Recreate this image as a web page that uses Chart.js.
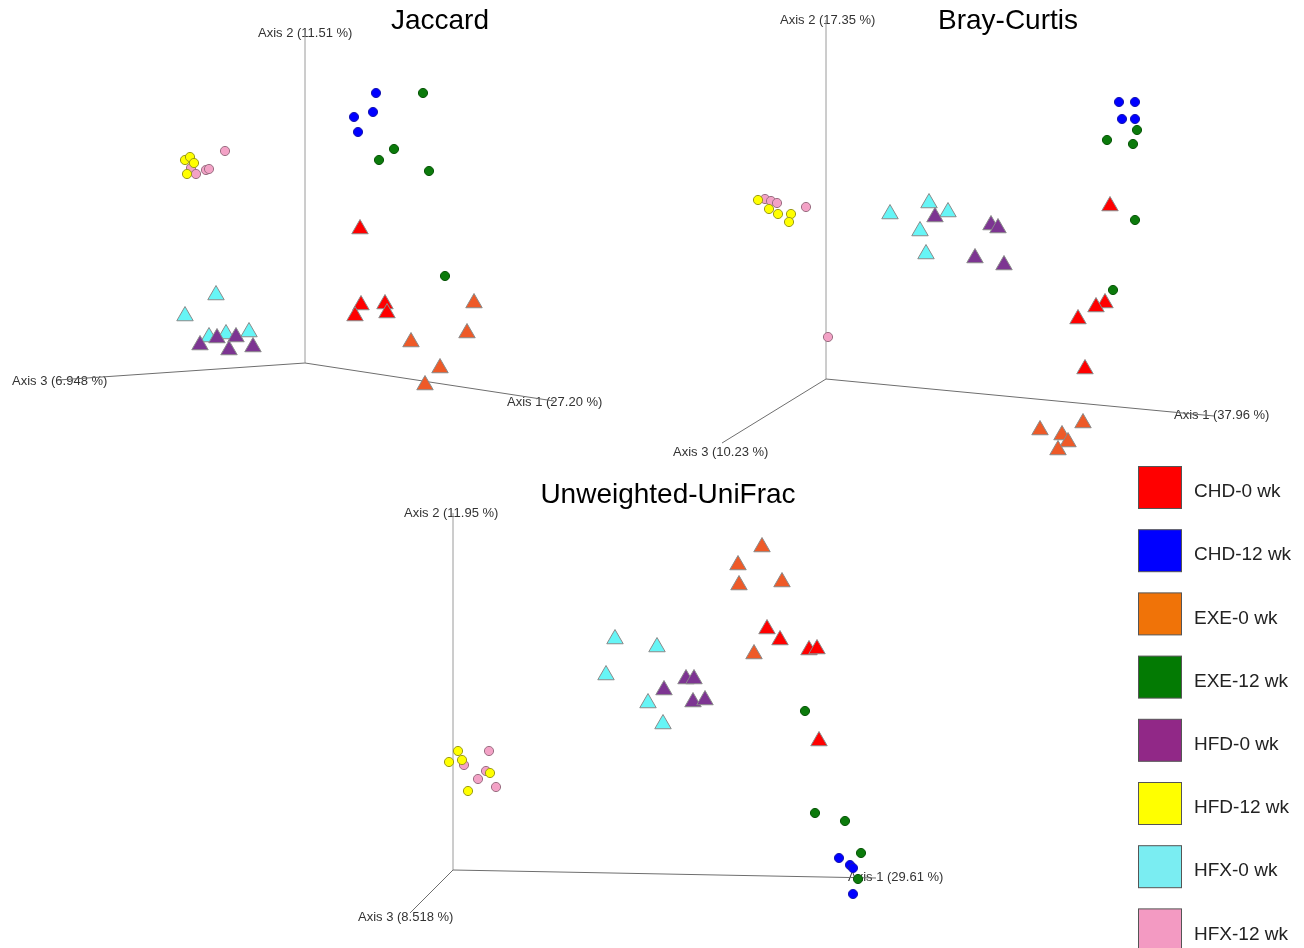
<!DOCTYPE html>
<html>
<head>
<meta charset="utf-8">
<title>PCoA</title>
<script src="https://cdn.jsdelivr.net/npm/chart.js@4.4.1/dist/chart.umd.min.js"></script>
<style>
  html, body { margin: 0; padding: 0; background: #fff; }
  #wrap { position: relative; width: 1304px; height: 948px; }
  #pcoa { width: 1304px; height: 948px; }
</style>
</head>
<body>
<div id="wrap"><canvas id="pcoa" width="1304" height="948"></canvas></div>
<script>
// Groups, in legend order
const groupNames = ['CHD-0 wk', 'CHD-12 wk', 'EXE-0 wk', 'EXE-12 wk', 'HFD-0 wk', 'HFD-12 wk', 'HFX-0 wk', 'HFX-12 wk'];

// Projected PCoA scores per group (screen projection of axes 1-3)
const jaccardPoints = [
  [[360, 229], [361, 305], [355, 316], [385, 304], [387, 313]],
  [[376, 93], [373, 112], [354, 117], [358, 132]],
  [[474, 303], [467, 333], [411, 342], [440, 368], [425, 385]],
  [[423, 93], [394, 149], [379, 160], [429, 171], [445, 276]],
  [[200, 345], [217, 338], [236, 337], [229, 350], [253, 347]],
  [[185, 160], [190, 157], [194, 163], [187, 174]],
  [[216, 295], [185, 316], [209, 337], [226, 334], [249, 332]],
  [[225, 151], [191, 168], [196, 174], [206, 170], [209, 169]]
];
const brayPoints = [
  [[1110, 206], [1105, 303], [1096, 307], [1078, 319], [1085, 369]],
  [[1119, 102], [1135, 102], [1122, 119], [1135, 119]],
  [[1040, 430], [1083, 423], [1062, 435], [1068, 442], [1058, 450]],
  [[1137, 130], [1107, 140], [1133, 144], [1135, 220], [1113, 290]],
  [[935, 217], [991, 225], [998, 228], [975, 258], [1004, 265]],
  [[758, 200], [769, 209], [778, 214], [791, 214], [789, 222]],
  [[890, 214], [929, 203], [948, 212], [920, 231], [926, 254]],
  [[765, 199], [771, 201], [777, 203], [806, 207], [828, 337]]
];
const unifracPoints = [
  [[767, 629], [780, 640], [809, 650], [817, 649], [819, 741]],
  [[839, 858], [850, 865], [853, 868], [853, 894]],
  [[762, 547], [738, 565], [739, 585], [782, 582], [754, 654]],
  [[805, 711], [815, 813], [845, 821], [861, 853], [858, 879]],
  [[664, 690], [686, 679], [694, 679], [693, 702], [705, 700]],
  [[458, 751], [449, 762], [462, 760], [490, 773], [468, 791]],
  [[615, 639], [657, 647], [606, 675], [648, 703], [663, 724]],
  [[489, 751], [464, 765], [486, 771], [478, 779], [496, 787]]
];

// Axis frame: origin, then ends of axis 1, axis 2, axis 3
const jaccardAxes = [[305, 363], [554, 401], [305, 33], [58, 380]];
const brayAxes = [[826, 379], [1214, 416], [826, 20], [722, 443]];
const unifracAxes = [[453, 870], [876, 878], [453, 513], [410, 913]];

const jaccardAxisLabels = ['Axis 1 (27.20 %)', 'Axis 2 (11.51 %)', 'Axis 3 (6.948 %)'];
const brayAxisLabels = ['Axis 1 (37.96 %)', 'Axis 2 (17.35 %)', 'Axis 3 (10.23 %)'];
const unifracAxisLabels = ['Axis 1 (29.61 %)', 'Axis 2 (11.95 %)', 'Axis 3 (8.518 %)'];

// Styling
const markerShape = ['triangle', 'circle', 'triangle', 'circle', 'triangle', 'circle', 'triangle', 'circle'];
const markerFill = ['#ff0000', '#0000ff', '#ee5a28', '#0b7a0b', '#7d3592', '#ffff00', '#66f5f6', '#f3a2c6'];
const markerEdge = ['#8a8a8a', '#1a1ab0', '#8a8a8a', '#0a560a', '#8a8a8a', '#9a9a1a', '#8a8a8a', '#9a6f82'];
const legendFill = ['#ff0000', '#0000ff', '#f07308', '#037a03', '#912887', '#ffff00', '#7aedf2', '#f39ac2'];

const panels = [
  { title: 'Jaccard', points: jaccardPoints, axes: jaccardAxes, labels: jaccardAxisLabels,
    titleAt: [440, 21], labelAt: [[507, 402], [258, 33], [12, 381]] },
  { title: 'Bray-Curtis', points: brayPoints, axes: brayAxes, labels: brayAxisLabels,
    titleAt: [1008, 21], labelAt: [[1174, 415], [780, 20], [673, 452]] },
  { title: 'Unweighted-UniFrac', points: unifracPoints, axes: unifracAxes, labels: unifracAxisLabels,
    titleAt: [668, 495], labelAt: [[848, 877], [404, 513], [358, 917]] }
];

const FONT = '"Liberation Sans", Arial, Helvetica, sans-serif';

function buildDatasets() {
  const sets = [];
  panels.forEach(p => {
    p.points.forEach((pts, g) => {
      const tri = markerShape[g] === 'triangle';
      sets.push({
        label: p.title + ' ' + groupNames[g],
        data: pts.map(([x, y]) => ({ x, y })),
        pointStyle: markerShape[g],
        pointRadius: tri ? 9.5 : 4.6,
        pointBackgroundColor: markerFill[g],
        pointBorderColor: markerEdge[g],
        pointBorderWidth: 1,
        showLine: false,
        order: 0
      });
    });
    // three axis lines from the origin
    for (let a = 1; a <= 3; a++) {
      sets.push({
        label: p.title + ' axis ' + a,
        data: [p.axes[0], p.axes[a]].map(([x, y]) => ({ x, y })),
        showLine: true,
        borderColor: a === 2 ? '#9a9a9a' : '#6e6e6e',
        borderWidth: 1,
        pointRadius: 0,
        order: 1
      });
    }
  });
  return sets;
}

const textPlugin = {
  id: 'panelText',
  beforeDatasetsDraw(chart) {
    const ctx = chart.ctx, xs = chart.scales.x, ys = chart.scales.y;
    ctx.save();
    panels.forEach(p => {
      ctx.fillStyle = '#000';
      ctx.font = '28px ' + FONT;
      ctx.textAlign = 'center';
      ctx.textBaseline = 'middle';
      ctx.fillText(p.title, xs.getPixelForValue(p.titleAt[0]), ys.getPixelForValue(p.titleAt[1]));
      ctx.fillStyle = '#333';
      ctx.font = '13px ' + FONT;
      ctx.textAlign = 'left';
      p.labels.forEach((t, i) => {
        ctx.fillText(t, xs.getPixelForValue(p.labelAt[i][0]), ys.getPixelForValue(p.labelAt[i][1]));
      });
    });
    ctx.restore();
  },
  afterDraw(chart) {
    // legend column on the right
    const ctx = chart.ctx;
    ctx.save();
    groupNames.forEach((name, i) => {
      const top = 466 + i * 63.2;
      ctx.fillStyle = legendFill[i];
      ctx.fillRect(1138.5, top + 0.5, 43, 42);
      ctx.strokeStyle = '#555';
      ctx.lineWidth = 1;
      ctx.strokeRect(1138.5, top + 0.5, 43, 42);
      ctx.fillStyle = '#222';
      ctx.font = '19px ' + FONT;
      ctx.textAlign = 'left';
      ctx.textBaseline = 'middle';
      ctx.fillText(name, 1194, top + 26);
    });
    ctx.restore();
  }
};

new Chart(document.getElementById('pcoa'), {
  type: 'scatter',
  data: { datasets: buildDatasets() },
  options: {
    responsive: false,
    animation: false,
    layout: { padding: 0, autoPadding: false },
    scales: {
      x: { type: 'linear', min: 0, max: 1304, display: false },
      y: { type: 'linear', min: 0, max: 948, reverse: true, display: false }
    },
    plugins: {
      legend: { display: false },
      tooltip: { enabled: false }
    },
    elements: { line: { tension: 0 } }
  },
  plugins: [textPlugin]
});
</script>
</body>
</html>
